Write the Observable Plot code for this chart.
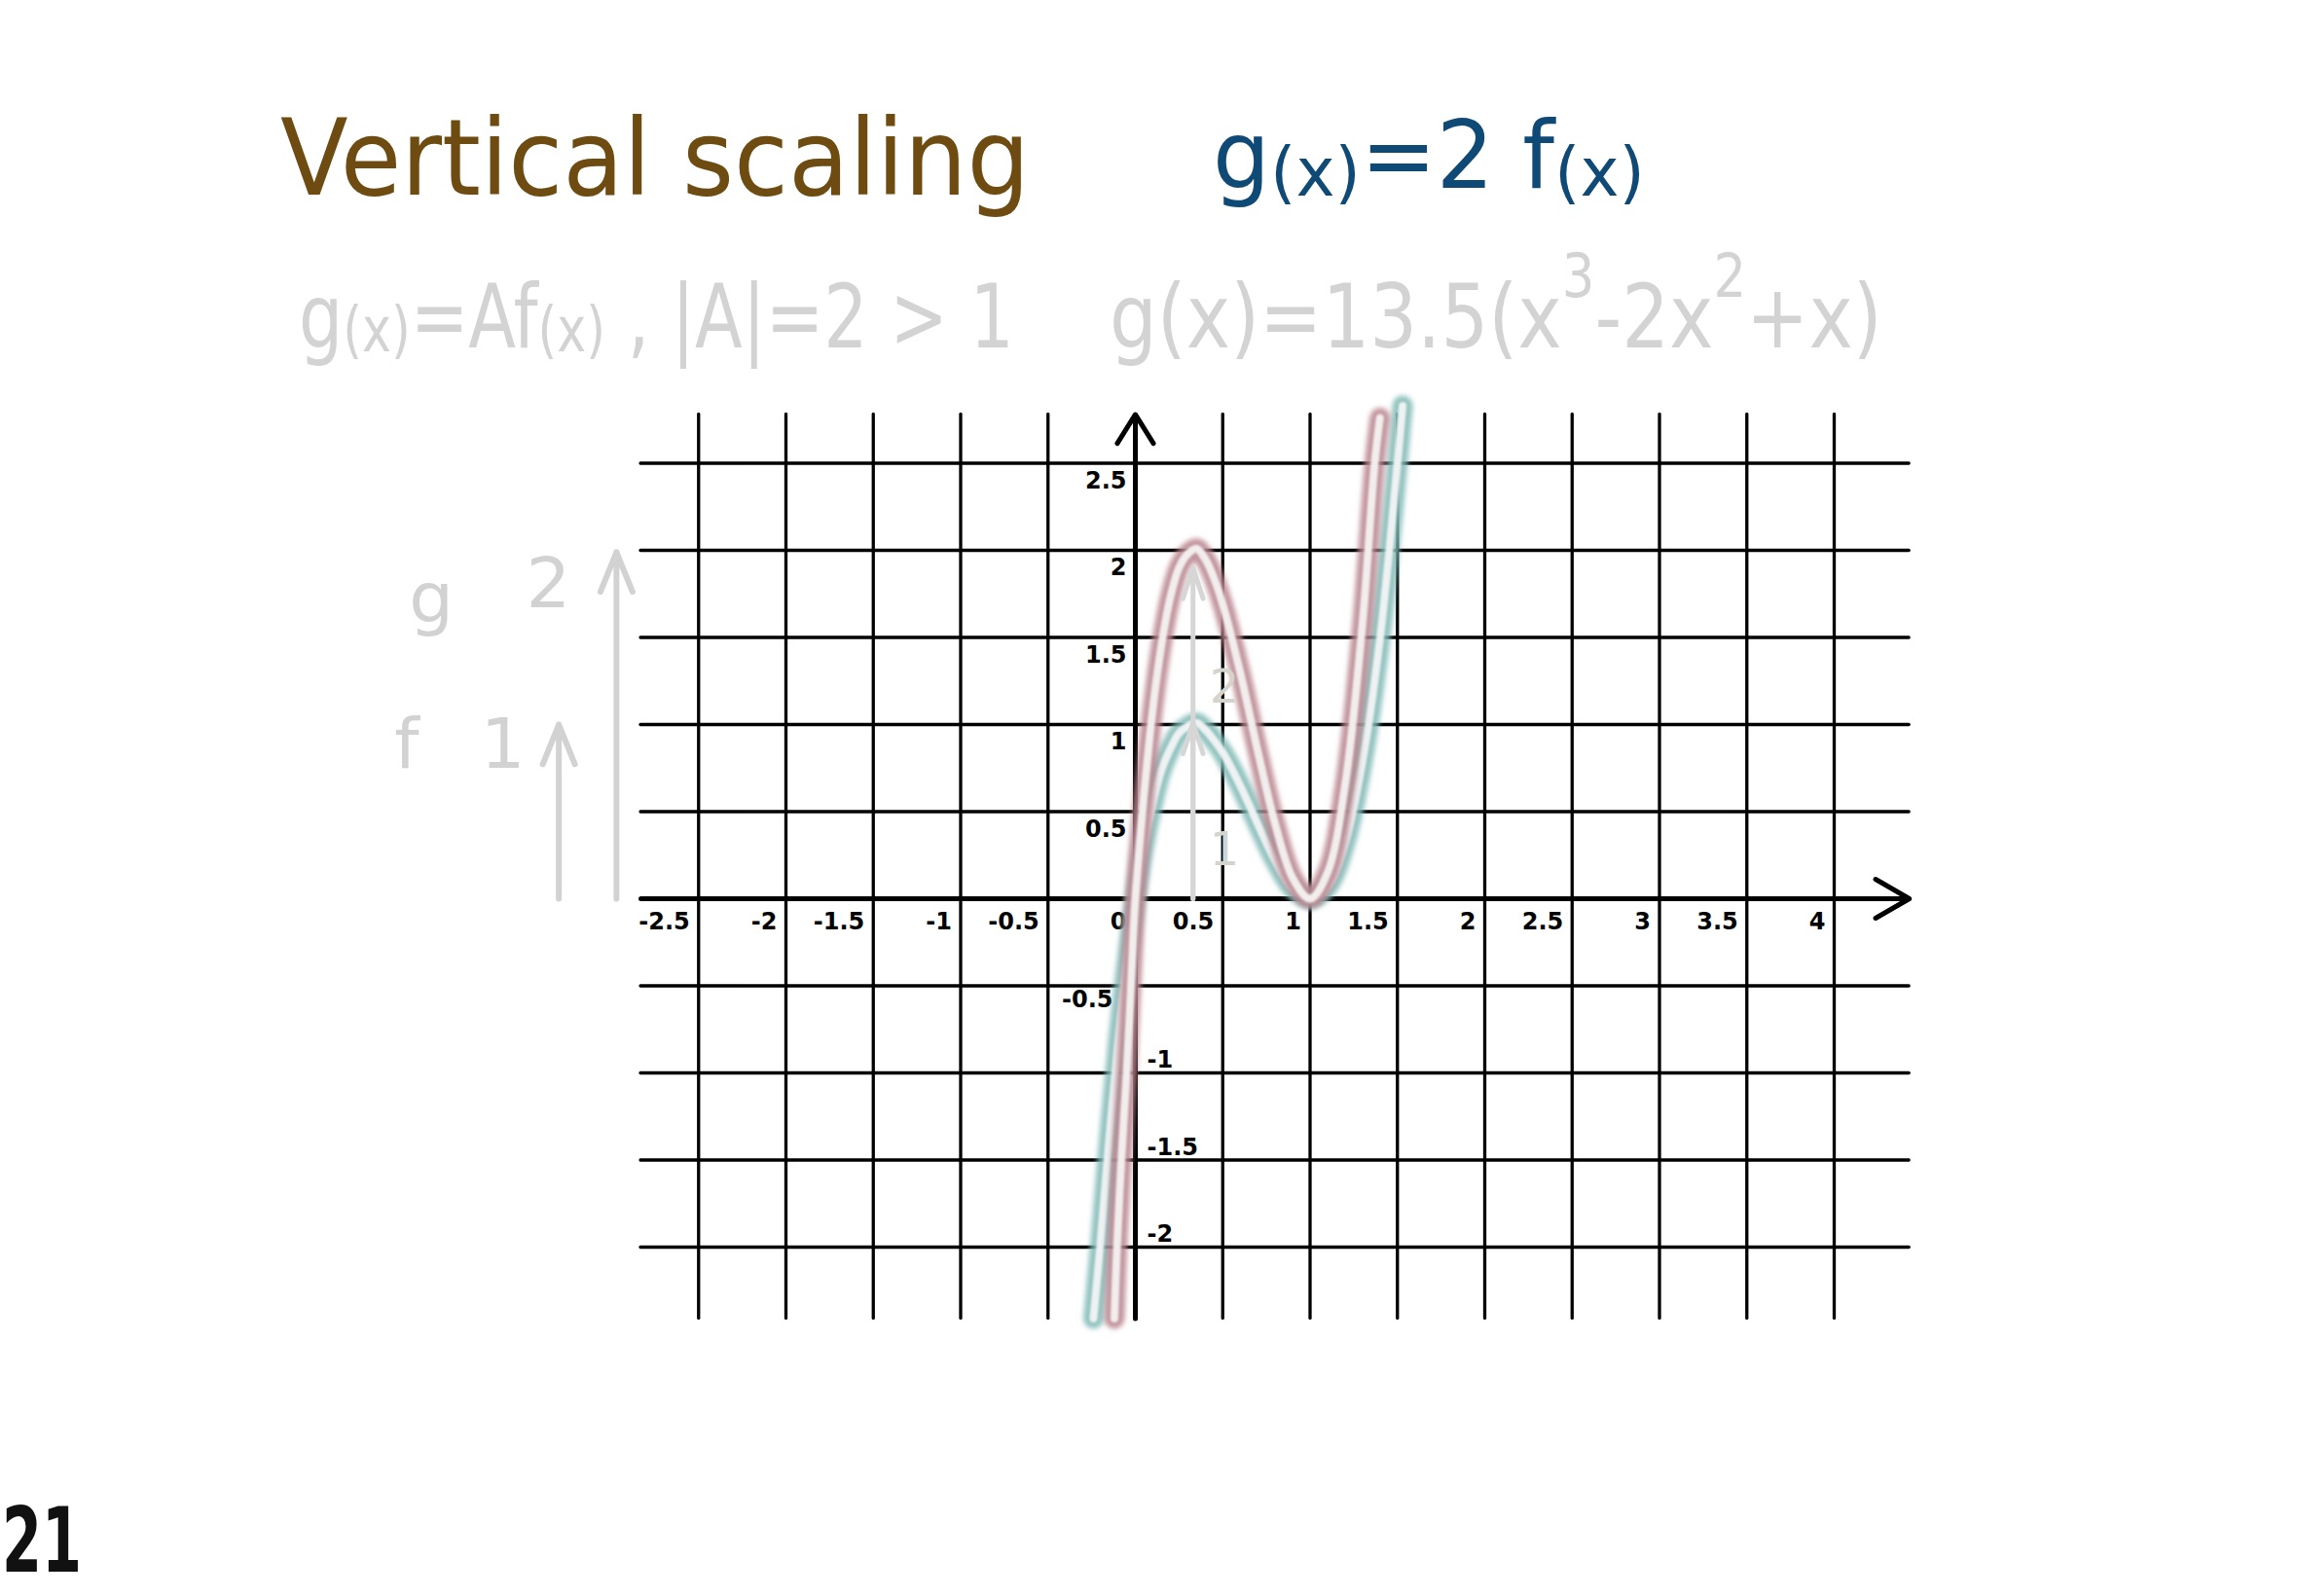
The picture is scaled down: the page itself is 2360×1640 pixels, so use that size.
<!DOCTYPE html>
<html>
<head>
<meta charset="utf-8">
<script src="https://cdn.jsdelivr.net/npm/d3@7"></script>
<script src="https://cdn.jsdelivr.net/npm/@observablehq/plot@0.6"></script>
<style>
  html, body { margin: 0; padding: 0; background: #fff; }
  #wrap { position: relative; width: 2360px; height: 1640px; overflow: hidden; background: #fff; }
  #chart { position: absolute; left: 0; top: 0; }
  #overlay { position: absolute; left: 0; top: 0; pointer-events: none; }
</style>
</head>
<body>
<div id="wrap">
  <div id="chart"></div>
  <svg id="overlay" width="2360" height="1640" xmlns="http://www.w3.org/2000/svg"></svg>
</div>
<script>
// ---------- data ----------
const xGrid = [-2.5, -2, -1.5, -1, -0.5, 0.5, 1, 1.5, 2, 2.5, 3, 3.5, 4];
const yGrid = [-2, -1.5, -1, -0.5, 0.5, 1, 1.5, 2, 2.5];
const gridXExtent = [-2.83, 4.43];
const gridYExtent = [-2.41, 2.78];

const xTickValues = [-2.5, -2, -1.5, -1, -0.5, 0, 0.5, 1, 1.5, 2, 2.5, 3, 3.5, 4];
const xTickLabels = ["-2.5", "-2", "-1.5", "-1", "-0.5", "0", "0.5", "1", "1.5", "2", "2.5", "3", "3.5", "4"];
const yTickPosValues = [0.5, 1, 1.5, 2, 2.5];
const yTickPosLabels = ["0.5", "1", "1.5", "2", "2.5"];
const yTickNegLeftValues = [-0.5];
const yTickNegLeftLabels = ["-0.5"];
const yTickNegRightValues = [-1, -1.5, -2];
const yTickNegRightLabels = ["-1", "-1.5", "-2"];

// f(x) (teal)
const fX = [-0.24, -0.2, -0.15, -0.1, -0.05, 0, 0.05, 0.1, 0.15, 0.2, 0.25, 0.3, 0.35, 0.4, 0.45, 0.5, 0.6, 0.7, 0.8, 0.9, 1.0, 1.1, 1.2, 1.3, 1.4, 1.5, 1.53];
const fY = [-2.41, -1.98, -1.38, -0.84, -0.38, 0, 0.31, 0.55, 0.74, 0.86, 0.95, 0.99, 1.01, 0.97, 0.91, 0.84, 0.65, 0.43, 0.22, 0.06, 0.0, 0.07, 0.32, 0.79, 1.49, 2.5, 2.83];
// g(x) = 2 f(x) (mauve)
const gX = [-0.12, -0.105, -0.08, -0.05, -0.025, 0, 0.05, 0.1, 0.15, 0.2, 0.25, 0.3, 0.35, 0.4, 0.45, 0.5, 0.6, 0.7, 0.8, 0.9, 1.0, 1.1, 1.2, 1.3, 1.37, 1.4];
const gY = [-2.41, -2.0, -1.5, -1.0, -0.5, 0, 0.6, 1.09, 1.46, 1.73, 1.9, 1.98, 2.01, 1.95, 1.84, 1.69, 1.3, 0.85, 0.43, 0.12, 0.0, 0.15, 0.65, 1.58, 2.5, 2.76];

// grey annotation arrows
const innerArrowX = [0.33, 0.33];
const innerArrowTop = [1.01, 1.9];
const innerLabels = ["2", "1"];
const innerLabelX = [0.51, 0.51];
const innerLabelY = [1.21, 0.28];
const sideArrowX = [-3.30, -2.97];
const sideArrowTop = [1.0, 1.99];
const sideLabels = ["g", "2", "f", "1"];
const sideLabelX = [-4.03, -3.36, -4.17, -3.62];
const sideLabelY = [1.72, 1.80, 0.88, 0.88];

// ---------- build ----------
const fData = fX.map((x, i) => ({x, y: fY[i]}));
const gData = gX.map((x, i) => ({x, y: gY[i]}));

const TEAL = "#7fb9b5";
const MAUVE = "#b8848e";
const GREY = "#d2d2d2";
const fontLabel = "'DejaVu Sans', sans-serif";

const plot = Plot.plot({
  width: 2360,
  height: 1640,
  marginLeft: 627.5,
  marginRight: 386.25,
  marginTop: 386,
  marginBottom: 269.5,
  x: {domain: [-3, 4.5], axis: null},
  y: {domain: [-2.5, 3], axis: null},
  style: {background: "#fff", fontFamily: fontLabel, overflow: "visible"},
  marks: [
    // grid
    Plot.ruleY(yGrid, {x1: gridXExtent[0], x2: gridXExtent[1], stroke: "#000", strokeWidth: 3.3, strokeLinecap: "round"}),
    Plot.ruleX(xGrid, {y1: gridYExtent[0], y2: gridYExtent[1], stroke: "#000", strokeWidth: 3.3, strokeLinecap: "round"}),
    // axes with arrowheads
    Plot.arrow([0], {x1: gridXExtent[0], x2: gridXExtent[1], y1: 0, y2: 0, stroke: "#000", strokeWidth: 5, headLength: 12, headAngle: 60}),
    Plot.arrow([0], {x1: 0, x2: 0, y1: gridYExtent[0], y2: gridYExtent[1], stroke: "#000", strokeWidth: 5, headLength: 10.5, headAngle: 64}),
    // tick labels
    Plot.text(xTickLabels, {x: xTickValues, y: 0, text: d => d, textAnchor: "end", dx: -9, dy: 24, fontSize: 24, fontWeight: "bold", fill: "#000"}),
    Plot.text(yTickPosLabels, {x: 0, y: yTickPosValues, text: d => d, textAnchor: "end", dx: -9, dy: 18, fontSize: 24, fontWeight: "bold", fill: "#000"}),
    Plot.text(yTickNegLeftLabels, {x: 0, y: yTickNegLeftValues, text: d => d, textAnchor: "end", dx: -23, dy: 14, fontSize: 24, fontWeight: "bold", fill: "#000"}),
    Plot.text(yTickNegRightLabels, {x: 0, y: yTickNegRightValues, text: d => d, textAnchor: "start", dx: 12, dy: -13, fontSize: 24, fontWeight: "bold", fill: "#000"}),
    // grey side arrows & labels
    Plot.arrow(sideArrowX, {x1: d => d, x2: d => d, y1: 0, y2: (d, i) => sideArrowTop[i], stroke: GREY, strokeWidth: 6, headLength: 11, headAngle: 44}),
    Plot.text(sideLabels, {x: sideLabelX, y: sideLabelY, text: d => d, fontSize: 72, fill: GREY, fontFamily: "'DejaVu Sans', sans-serif"}),
    // curves: teal f, mauve g (tube look)
    Plot.line(fData, {x: "x", y: "y", curve: "catmull-rom", stroke: TEAL, strokeWidth: 21, strokeOpacity: 0.85, strokeLinecap: "round", strokeLinejoin: "round"}),
    Plot.line(fData, {x: "x", y: "y", curve: "catmull-rom", stroke: "#eef2f2", strokeWidth: 8, strokeLinecap: "round", strokeLinejoin: "round"}),
    Plot.line(gData, {x: "x", y: "y", curve: "catmull-rom", stroke: MAUVE, strokeWidth: 21, strokeOpacity: 0.85, strokeLinecap: "round", strokeLinejoin: "round"}),
    Plot.line(gData, {x: "x", y: "y", curve: "catmull-rom", stroke: "#f2eeee", strokeWidth: 8, strokeLinecap: "round", strokeLinejoin: "round"}),
    // grey inner arrows & labels
    Plot.arrow(innerArrowX, {x1: d => d, x2: d => d, y1: 0, y2: (d, i) => innerArrowTop[i], stroke: "#d6d6d6", strokeWidth: 5, headLength: 10, headAngle: 36}),
    Plot.text(innerLabels, {x: innerLabelX, y: innerLabelY, text: d => d, fontSize: 48, fill: "#d4d4cc", fontFamily: "'DejaVu Sans', sans-serif"})
  ]
});
document.getElementById("chart").appendChild(plot);

// soft blur on the coloured curve outlines
const svg = d3.select(plot);
const defs = svg.insert("defs", ":first-child");
const flt = defs.append("filter").attr("id", "soft").attr("x", "-20%").attr("y", "-20%").attr("width", "140%").attr("height", "140%");
flt.append("feGaussianBlur").attr("stdDeviation", 2.6);
svg.selectAll(`g[stroke="${TEAL}"], g[stroke="${MAUVE}"]`).attr("filter", "url(#soft)");
const flt2 = defs.append("filter").attr("id", "soft2").attr("x", "-20%").attr("y", "-20%").attr("width", "140%").attr("height", "140%");
flt2.append("feGaussianBlur").attr("stdDeviation", 1.2);
svg.selectAll(`g[stroke="#eef2f2"], g[stroke="#f2eeee"]`).attr("filter", "url(#soft2)");

// ---------- titles (natural layout, then scaled to the reference width) ----------
const ov = d3.select("#overlay");
function addText(x, y, size, fill, len, parts, weight) {
  const g = ov.append("g");
  const t = g.append("text").attr("x", 0).attr("y", 0)
    .attr("font-family", "'DejaVu Sans', sans-serif")
    .attr("font-size", size).attr("fill", fill)
    .attr("font-weight", weight || "normal");
  parts.forEach(p => {
    const s = t.append("tspan").text(p.t);
    if (p.size) s.attr("font-size", p.size);
    if (p.dy) s.attr("dy", p.dy);
  });
  const natural = t.node().getComputedTextLength();
  const k = natural > 0 ? len / natural : 1;
  g.attr("transform", `translate(${x},${y}) scale(${k},1)`);
  return t;
}
addText(288, 200, 108, "#6e4b10", 770, [{t: "Vertical  scaling"}]);
addText(1246, 193, 96, "#0f4a77", 444, [
  {t: "g"}, {t: "(x)", size: 70, dy: 8}, {t: "=2 f", dy: -8}, {t: "(x)", size: 70, dy: 8}
]);
addText(307, 357, 90, "#d3d3d3", 735, [
  {t: "g"}, {t: "(x)", size: 64, dy: 4}, {t: "=Af", dy: -4}, {t: "(x)", size: 64, dy: 4}, {t: " ,  |A|=2 > 1", dy: -4}
]);
addText(1140, 357, 90, "#d3d3d3", 794, [
  {t: "g(x)=13.5(x"}, {t: "3", size: 62, dy: -52}, {t: "-2x", dy: 52}, {t: "2", size: 62, dy: -52}, {t: "+x)", dy: 52}
]);
addText(2, 1615, 92, "#111", 82, [{t: "21"}], "bold");
</script>
</body>
</html>
